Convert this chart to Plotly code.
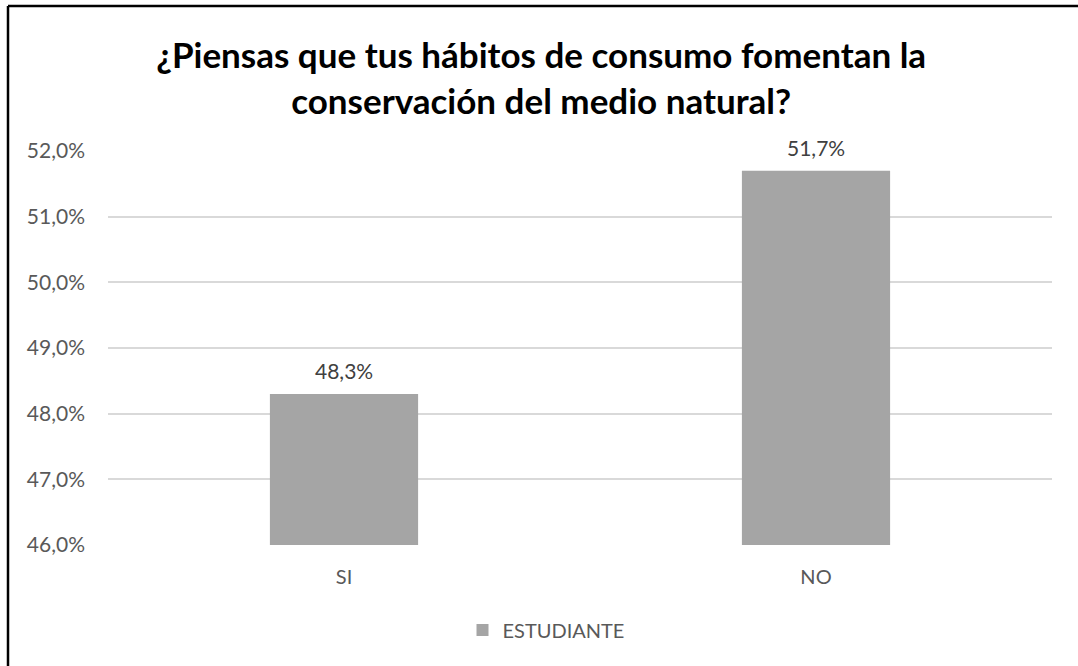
import plotly.graph_objects as go

categories = ["SI", "NO"]
values = [0.483, 0.517]
series_name = "ESTUDIANTE"
title_lines = ["¿Piensas que tus hábitos de consumo fomentan la", "conservación del medio natural?"]
y_ticks = [0.46, 0.47, 0.48, 0.49, 0.50, 0.51, 0.52]

FONT = "Lato, 'Open Sans', sans-serif"
BAR = "#a5a5a5"

fig = go.Figure()
fig.add_trace(go.Bar(
    x=categories, y=values, name=series_name,
    marker=dict(color=BAR, line=dict(width=0)),
    showlegend=True,
))

W, H = 1078, 666
L, R, T, B = 108, 26, 151, 121
pw, ph = W - L - R, H - T - B

annotations = [
    dict(x=c, y=v, xref="x", yref="y", text=f"{v*100:.1f}%".replace(".", ","),
         showarrow=False, yanchor="middle", yshift=23,
         font=dict(size=21, color="#404040", family=FONT))
    for c, v in zip(categories, values)
]

fig.update_layout(
    width=W, height=H,
    margin=dict(l=L, r=R, t=T, b=B, pad=0),
    paper_bgcolor="white", plot_bgcolor="white",
    separators=",.",
    bargap=0.686,
    font=dict(family=FONT, color="#595959", size=20),
    title=dict(
        text="<br>".join(title_lines),
        font=dict(family=FONT, size=35, color="#000000", weight="bold"),
        x=0.502, xref="container", xanchor="center",
        y=1 - 68 / H, yref="container", yanchor="middle",
    ),
    xaxis=dict(
        showgrid=False, showline=False, zeroline=False,
        ticks="", ticklabelstandoff=18,
        tickfont=dict(size=20, color="#595959"),
    ),
    yaxis=dict(
        range=[0.46, 0.52], tickvals=y_ticks, tickformat=".1%",
        showgrid=True, gridcolor="#d9d9d9", gridwidth=1.5,
        zeroline=False, showline=False, ticks="", ticklabelstandoff=22,
        tickfont=dict(size=21, color="#595959"),
    ),
    legend=dict(
        orientation="h", x=0.5 - 34 / pw, xanchor="center",
        y=-(630 - 545) / ph, yanchor="middle",
        font=dict(size=20, color="#595959"),
        itemwidth=30,
    ),
    annotations=annotations,
    shapes=[
        dict(type="line", xref="paper", yref="paper",
             x0=(8 - L) / pw, x1=(8 - L) / pw, y0=(545 - 6) / ph, y1=-0.5,
             line=dict(color="black", width=2.5)),
        dict(type="line", xref="paper", yref="paper",
             x0=(8 - L) / pw, x1=1.2, y0=(545 - 6) / ph, y1=(545 - 6) / ph,
             line=dict(color="black", width=2.5)),
    ],
)

fig.write_html(
    "out.html",
    config={"displayModeBar": False},
    post_script="document.body.style.margin='0';document.body.style.overflow='hidden';",
)
